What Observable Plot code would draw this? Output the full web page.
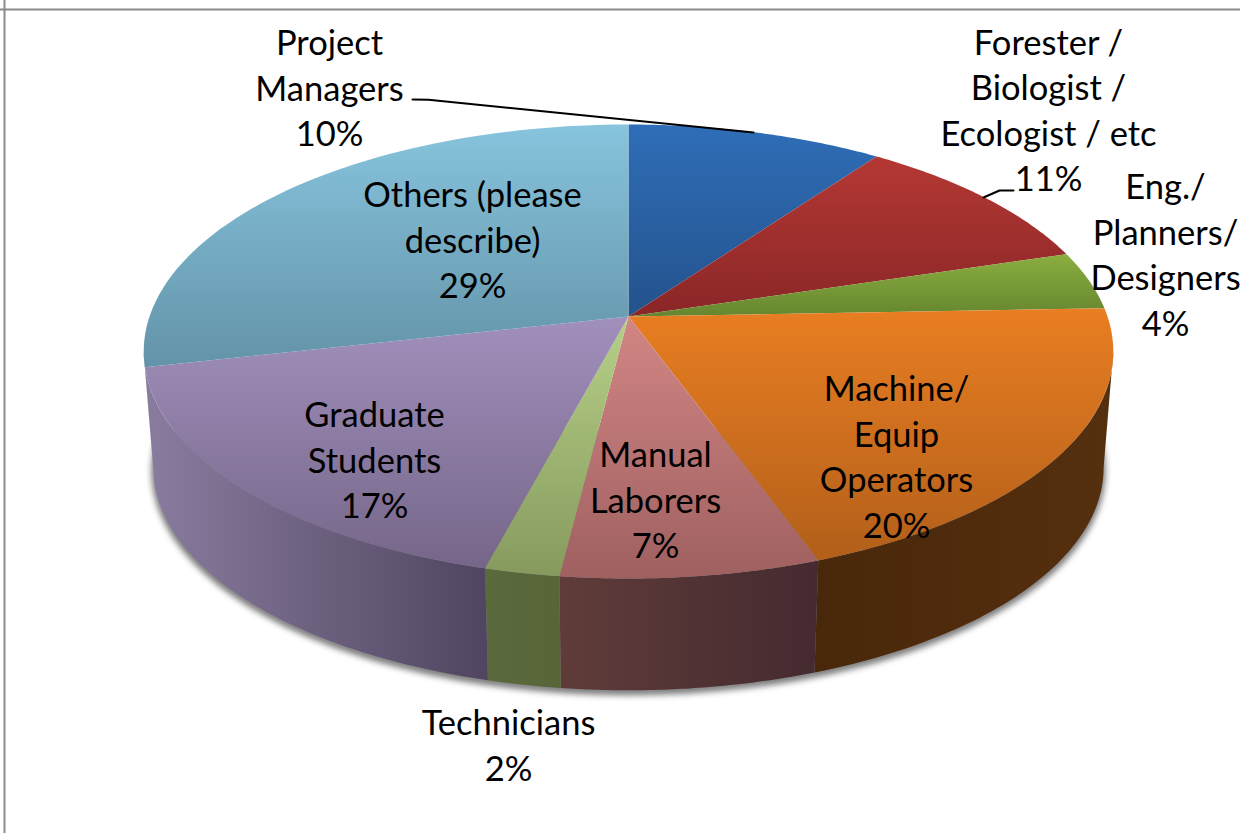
<!DOCTYPE html>
<html><head><meta charset="utf-8">
<style>html,body{margin:0;padding:0;background:#fff;overflow:hidden}svg{display:block}</style>
<script src="https://cdn.jsdelivr.net/npm/d3@7"></script>
<script src="https://cdn.jsdelivr.net/npm/@observablehq/plot@0.6"></script>
</head><body><div id="chart"></div>
<script>
// Data
const categories = ["Project Managers","Forester / Biologist / Ecologist / etc","Eng./ Planners/ Designers","Machine/ Equip Operators","Manual Laborers","Technicians","Graduate Students","Others (please describe)"];
const shares = [9.9, 10.35, 4.15, 20.1, 7.45, 2.15, 17.35, 28.55]; // slice sizes as drawn
const percentLabels = ["10%","11%","4%","20%","7%","2%","17%","29%"];
const labelLines = [
  "Project\nManagers","Forester /\nBiologist /\nEcologist / etc","Eng./\nPlanners/\nDesigners",
  "Machine/\nEquip\nOperators","Manual\nLaborers","Technicians","Graduate\nStudents","Others (please\ndescribe)"];
// Layout of labels and leaders
const labelX = [329,1048,1165,896,655,508,374,472];
const labelY = [85.5,108,252.5,454.5,497.5,743,457.5,237.5];
const leaders = [[[412,99],[428,99.3],[753,132]],[[983,197],[999,190],[1013,190]]];
// Colours: top light, top dark, side left, side right
const topLight = ["#2f6eb8","#b43834","#8bae40","#e97e22","#d28684","#b6d088","#a190bc","#87c4dd"];
const topDark  = ["#24528c","#8a2627","#65862f","#b25f1a","#9f6060","#869a5d","#756689","#6393a8"];
const sideLeft = ["#24406a","#6a2020","#4e6428","#49270a","#5f3c39","#5a6a3d","#8a7c9f","#8a7c9f"];
const sideRight= ["#24406a","#6a2020","#4e6428","#55300f","#452a30","#586539","#4f4560","#8a7c9f"];

// Perspective disc: a circle seen from above, so the front looks larger than the back
const cx = 628, cy = 316, a = 0.1542, b = 221.6, k = 479, drop = 117, bottomScale = 0.98;
function rim(t) { // t = fraction of full turn clockwise from 12 o'clock
  const ang = t * 2 * Math.PI, xx = Math.sin(ang), d = -Math.cos(ang), den = 1 - a * d;
  return [k * xx / den, b * d / den];
}
const topPt = t => { const [X, Y] = rim(t); return {x: cx + X, y: cy + Y}; };
const botPt = t => { const [X, Y] = rim(t); return {x: cx + bottomScale * X, y: cy + drop + bottomScale * Y}; };
const total = d3.sum(shares);
const starts = d3.cumsum([0, ...shares]).map(v => v / total);
const arc = (t0, t1, f) => d3.range(61).map(i => f(t0 + (t1 - t0) * i / 60));
// the wall is visible only between the disc's widest points
const tRight = Math.acos(-a) / (2 * Math.PI), tLeft = 1 - tRight;
const walls = shares.map((_, i) => {
  const t0 = Math.max(starts[i], tRight), t1 = Math.min(starts[i + 1], tLeft);
  return t1 > t0 ? [...arc(t0, t1, topPt), ...arc(t0, t1, botPt).reverse()] : null;
});
const topFaces = shares.map((_, i) => [{x: cx, y: cy}, ...arc(starts[i], starts[i + 1], topPt)]);
const shadowRing = arc(tRight - 0.03, tLeft + 0.03, botPt);
const labels = categories.map((c, i) => ({text: labelLines[i] + "\n" + percentLabels[i], x: labelX[i], y: labelY[i]}));

function defs() {
  const ns = d3.create("svg:defs");
  const grad = (id, vertical, c0, c1) => {
    const g = ns.append("linearGradient").attr("id", id).attr("x1", 0).attr("y1", 0).attr("x2", vertical ? 0 : 1).attr("y2", vertical ? 1 : 0);
    g.append("stop").attr("offset", 0).attr("stop-color", c0);
    g.append("stop").attr("offset", 1).attr("stop-color", c1);
  };
  shares.forEach((_, i) => { grad("top" + i, true, topLight[i], topDark[i]); grad("side" + i, false, sideLeft[i], sideRight[i]); });
  return ns.node();
}
const blur = (index, scales, values, dims, ctx, next) => { const g = next(index, scales, values, dims, ctx); g.style.filter = "blur(3px)"; return g; };

const chart = Plot.plot({
  width: 1240, height: 833, margin: 0,
  x: {domain: [0, 1240], range: [0, 1240], axis: null},
  y: {domain: [0, 833], range: [0, 833], axis: null},
  style: {background: "#fff", overflow: "hidden"},
  marks: [
    defs,
    Plot.ruleX([4], {stroke: "#8b8b8b", strokeWidth: 2}),
    Plot.ruleY([9], {stroke: "#8b8b8b", strokeWidth: 2}),
    Plot.line(shadowRing.map(p => ({x: p.x, y: p.y + 3})), {x: "x", y: "y", fill: "#000", fillOpacity: 0.45, stroke: "#000", strokeOpacity: 0.45, strokeWidth: 4, render: blur}),
    ...walls.flatMap((w, i) => w ? [Plot.line(w, {x: "x", y: "y", fill: `url(#side${i})`, stroke: "none"})] : []),
    ...topFaces.map((f, i) => Plot.line(f, {x: "x", y: "y", fill: `url(#top${i})`, stroke: "none"})),
    ...leaders.map(l => Plot.line(l, {x: d => d[0], y: d => d[1], stroke: "#000", strokeWidth: 2})),
    Plot.text(labels, {x: "x", y: "y", text: "text", fontFamily: "Lato", fontSize: 34.5, lineHeight: 1.32, fill: "#000", lineAnchor: "middle", textAnchor: "middle"})
  ]
});
document.getElementById("chart").append(chart);
</script></body></html>
